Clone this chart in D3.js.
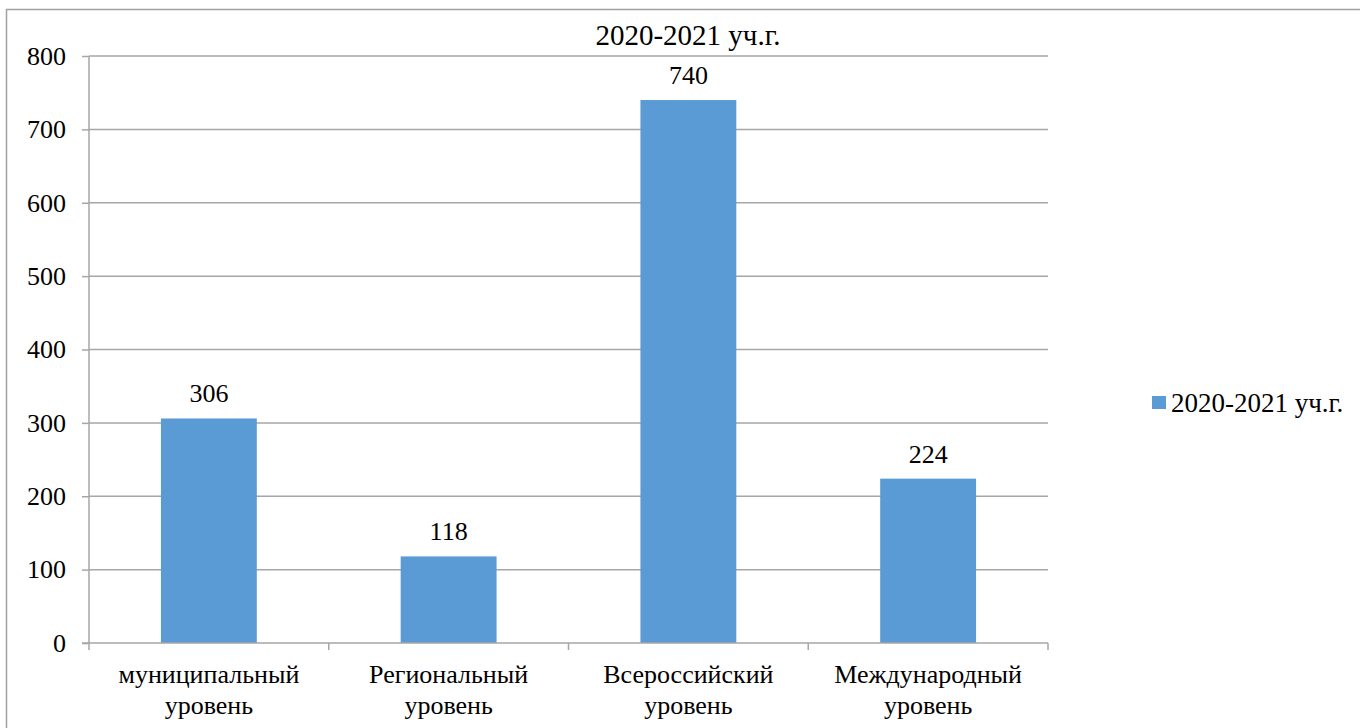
<!DOCTYPE html>
<html>
<head>
<meta charset="utf-8">
<script src="https://cdn.jsdelivr.net/npm/d3@7"></script>
<style>
  body { margin: 0; background: #fff; }
  svg text { font-family: "Liberation Serif", "Times New Roman", serif; fill: #000; }
</style>
</head>
<body>
<svg id="chart" width="1360" height="728"></svg>
<script>
var categories = [
  ['муниципальный', 'уровень'],
  ['Региональный', 'уровень'],
  ['Всероссийский', 'уровень'],
  ['Международный', 'уровень']
];
var values = [306, 118, 740, 224];
var yTicks = [0, 100, 200, 300, 400, 500, 600, 700, 800];
var seriesName = '2020-2021 уч.г.';

(function() {
  var svg = d3.select('#chart'),
      plotLeft = 89, plotRight = 1048, plotTop = 56, plotBottom = 643,
      barColor = '#5b9bd5',
      gridColor = '#a6a6a6',
      fontSize = '26px';

  // outer chart border
  svg.append('rect')
    .attr('x', 6.5).attr('y', 9.5)
    .attr('width', 1400).attr('height', 800)
    .attr('fill', 'none').attr('stroke', '#a0a0a0').attr('stroke-width', 1.5);

  var x = d3.scaleBand()
    .domain(d3.range(categories.length))
    .range([plotLeft, plotRight]);

  var y = d3.scaleLinear()
    .domain([0, 800])
    .range([plotBottom, plotTop]);

  // gridlines
  svg.append('g')
    .selectAll('line')
    .data(yTicks.filter(function(d) { return d > 0; }))
    .enter().append('line')
      .attr('x1', plotLeft).attr('x2', plotRight)
      .attr('y1', function(d) { return y(d); })
      .attr('y2', function(d) { return y(d); })
      .attr('stroke', gridColor).attr('stroke-width', 1.5);

  // y axis
  var yAxis = svg.append('g')
    .attr('transform', 'translate(' + plotLeft + ',0)')
    .call(d3.axisLeft(y).tickValues(yTicks).tickSize(7).tickPadding(16));
  yAxis.attr('font-family', null).attr('font-size', null);
  yAxis.selectAll('path, line').attr('stroke', gridColor).attr('stroke-width', 1.5);
  yAxis.select('.domain').attr('d', 'M0,' + plotTop + 'V' + plotBottom);
  yAxis.selectAll('text')
    .style('font-size', fontSize).attr('fill', '#000');

  // bars
  var barW = x.bandwidth() * 0.4;
  svg.append('g')
    .selectAll('rect')
    .data(values)
    .enter().append('rect')
      .attr('x', function(d, i) { return x(i) + (x.bandwidth() - barW) / 2; })
      .attr('y', function(d) { return y(d); })
      .attr('width', barW)
      .attr('height', function(d) { return y(0) - y(d); })
      .attr('fill', barColor);

  // x axis
  var xAxis = svg.append('g')
    .attr('transform', 'translate(0,' + plotBottom + ')');
  xAxis.append('line')
    .attr('x1', plotLeft - 7).attr('x2', plotRight)
    .attr('stroke', gridColor).attr('stroke-width', 1.5);
  xAxis.selectAll('line.tick')
    .data(d3.range(categories.length + 1))
    .enter().append('line')
      .attr('class', 'tick')
      .attr('x1', function(d) { return plotLeft + d * x.step(); })
      .attr('x2', function(d) { return plotLeft + d * x.step(); })
      .attr('y1', 0).attr('y2', 7)
      .attr('stroke', gridColor).attr('stroke-width', 1.5);

  var labels = svg.append('g')
    .selectAll('text')
    .data(categories)
    .enter().append('text')
      .attr('text-anchor', 'middle')
      .style('font-size', fontSize)
      .attr('transform', function(d, i) {
        return 'translate(' + (x(i) + x.bandwidth() / 2) + ',' + (plotBottom + 40) + ')';
      });
  labels.selectAll('tspan')
    .data(function(d) { return d; })
    .enter().append('tspan')
      .attr('x', 0)
      .attr('dy', function(d, j) { return j === 0 ? 0 : 31; })
      .text(function(d) { return d; });

  // value labels
  svg.append('g')
    .selectAll('text')
    .data(values)
    .enter().append('text')
      .attr('text-anchor', 'middle')
      .style('font-size', fontSize)
      .attr('x', function(d, i) { return x(i) + x.bandwidth() / 2; })
      .attr('y', function(d) { return y(d) - 16; })
      .text(function(d) { return d; });

  // title
  svg.append('text')
    .attr('x', 688).attr('y', 45)
    .attr('text-anchor', 'middle')
    .style('font-size', '29px')
    .text(seriesName);

  // legend
  var legend = svg.append('g').attr('transform', 'translate(1152,396)');
  legend.append('rect')
    .attr('x', 0).attr('y', 0).attr('width', 14).attr('height', 13)
    .attr('fill', barColor);
  legend.append('text')
    .attr('x', 19).attr('y', 16)
    .style('font-size', '27px')
    .text(seriesName);
})();
</script>
</body>
</html>
